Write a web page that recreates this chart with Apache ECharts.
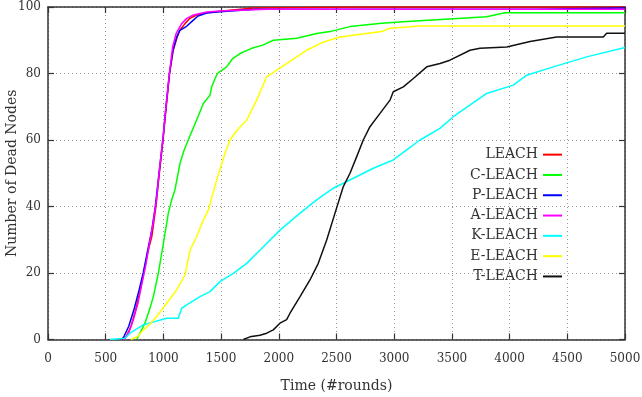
<!DOCTYPE html>
<html>
<head>
<meta charset="utf-8">
<script src="https://cdn.jsdelivr.net/npm/echarts@6/dist/echarts.min.js"></script>
<style>
  html, body { margin: 0; padding: 0; background: #fff; }
  #chart { width: 642px; height: 397px; }
</style>
</head>
<body>
<div id="chart"></div>
<script>
// Dead nodes over time for each LEACH variant: [round, dead nodes]
const leach = [[650,0],[680,1],[720,4],[760,9],[800,15],[830,20],[870,27],[900,31],[935,40],[965,50],[997,60],[1025,70],[1054,80],[1085,87],[1120,91],[1143,93],[1187,95],[1230,96.6],[1288,97.6],[1375,98.3],[1490,98.7],[1780,99.7],[2680,100],[5000,100]];
const cLeach = [[770,0],[783,0.5],[840,4.9],[880,9],[913,12.9],[956,19.9],[1000,28.9],[1043,38],[1072,42],[1100,45],[1144,53],[1180,57],[1215,60],[1288,66],[1346,71],[1404,73.5],[1418,76],[1467,80],[1548,82],[1600,84.5],[1664,86],[1760,87.5],[1866,88.6],[1953,90],[2155,90.6],[2328,92],[2444,92.6],[2617,94.1],[2891,95.1],[3077,95.6],[3801,97.1],[3960,98.3],[5000,98.3]];
const pLeach = [[640,0],[660,1],[700,4],[745,9],[790,15],[825,20],[865,27],[900,33],[930,40],[962,50],[995,60],[1022,70],[1052,80],[1083,87],[1115,91],[1143,93],[1201,94.2],[1245,95.6],[1300,97.3],[1375,98.2],[1490,98.6],[1800,99.3],[4220,99.3],[4230,99.7],[5000,99.7]];
const aLeach = [[660,0],[700,2],[740,6],[780,11],[815,17],[845,22],[880,29],[910,35],[940,42],[968,52],[998,61],[1025,71],[1052,80],[1080,88],[1110,92],[1158,95],[1200,96.5],[1260,97.6],[1375,98.5],[1490,98.8],[1900,99.3],[5000,99.3]];
const kLeach = [[537,0],[667,0.4],[710,1.9],[826,4.4],[1028,6.4],[1129,6.4],[1158,9.4],[1216,10.7],[1317,12.9],[1404,14.4],[1490,17.4],[1606,19.9],[1722,22.9],[1866,27.9],[2010,32.9],[2184,38],[2328,42],[2472,45.5],[2646,48.5],[2819,51.5],[2992,54],[3108,57],[3224,60],[3397,63.5],[3512,67],[3801,74],[4032,76.5],[4148,79.5],[4379,82],[4668,85],[5000,87.8]];
const eLeach = [[720,0],[780,1],[826,2.9],[880,4.5],[942,6.9],[1028,10.9],[1115,14.9],[1187,19.4],[1231,26.9],[1288,30.9],[1346,35.9],[1389,38.9],[1462,48],[1534,56],[1577,60],[1640,63],[1722,66],[1808,72],[1895,79],[1982,81],[2068,83],[2155,85],[2242,87],[2357,89],[2444,90.1],[2530,91],[2891,92.6],[2964,93.6],[3224,94.3],[5000,94.3]];
const tLeach = [[1693,0],[1750,0.8],[1837,1.3],[1895,1.9],[1952,2.9],[2010,4.9],[2068,6],[2097,7.9],[2184,12.9],[2270,17.9],[2342,22.9],[2415,29.9],[2487,38],[2559,46],[2617,50],[2675,55],[2732,60],[2790,64],[2877,68],[2964,72],[2992,74.5],[3079,76],[3166,78.5],[3282,82],[3397,83],[3483,84],[3657,87],[3743,87.6],[3975,88],[4177,89.6],[4408,91],[4812,91],[4841,92.1],[5000,92.1]];

const seriesNames = ['LEACH', 'C-LEACH', 'P-LEACH', 'A-LEACH', 'K-LEACH', 'E-LEACH', 'T-LEACH'];
const seriesData = [leach, cLeach, pLeach, aLeach, kLeach, eLeach, tLeach];
const seriesColors = ['#ff0000', '#00ff00', '#0000ff', '#ff00ff', '#00ffff', '#ffff00', '#111111'];

const FONT = 'DejaVu Serif';
const INK = '#333333';

const chart = echarts.init(document.getElementById('chart'), null, { renderer: 'canvas' });

const frameLine = { show: true, onZero: false, lineStyle: { color: INK, width: 1.5 } };
const innerTick = { show: true, inside: true, length: 6, lineStyle: { color: INK, width: 1.2 } };
const dotted = { show: true, lineStyle: { color: '#9a9a9a', width: 1, type: [1, 3] } };
const plainNumber = v => String(v);

chart.setOption({
  animation: false,
  backgroundColor: '#ffffff',
  grid: { left: 48, right: 17, top: 7, bottom: 57.5, containLabel: false, outerBoundsMode: 'none' },
  xAxis: [
    {
      type: 'value', min: 0, max: 5000, interval: 500,
      name: 'Time (#rounds)', nameLocation: 'middle', nameGap: 40,
      nameTextStyle: { fontFamily: FONT, fontSize: 14, color: INK },
      axisLine: frameLine, axisTick: innerTick,
      axisLabel: { margin: 13, fontFamily: FONT, fontSize: 12, color: INK, formatter: plainNumber },
      splitLine: dotted
    },
    {
      type: 'value', position: 'top', min: 0, max: 5000, interval: 500,
      axisLine: frameLine, axisTick: innerTick,
      axisLabel: { show: false }, splitLine: { show: false }
    }
  ],
  yAxis: [
    {
      type: 'value', min: 0, max: 100, interval: 20,
      name: 'Number of Dead Nodes', nameLocation: 'middle', nameGap: 29,
      nameMoveOverlap: false,
      nameTextStyle: { fontFamily: FONT, fontSize: 14, color: INK },
      axisLine: frameLine, axisTick: innerTick,
      axisLabel: { margin: 7, fontFamily: FONT, fontSize: 12, color: INK, formatter: plainNumber },
      splitLine: dotted
    },
    {
      type: 'value', position: 'right', min: 0, max: 100, interval: 20,
      axisLine: frameLine, axisTick: innerTick,
      axisLabel: { show: false }, splitLine: { show: false }
    }
  ],
  legend: {
    orient: 'vertical',
    align: 'right',
    right: 80,
    top: 144.5,
    padding: 0,
    itemGap: 0,
    itemWidth: 19,
    itemHeight: 2,
    icon: 'rect',
    data: seriesNames,
    textStyle: { fontFamily: FONT, fontSize: 14, color: INK, lineHeight: 20.3 }
  },
  series: seriesNames.map((name, i) => ({
    name: name,
    type: 'line',
    xAxisIndex: 0,
    yAxisIndex: 0,
    data: seriesData[i],
    showSymbol: false,
    symbol: 'none',
    color: seriesColors[i],
    lineStyle: { color: seriesColors[i], width: 1.5 },
    z: 2 + i
  }))
});
</script>
</body>
</html>
